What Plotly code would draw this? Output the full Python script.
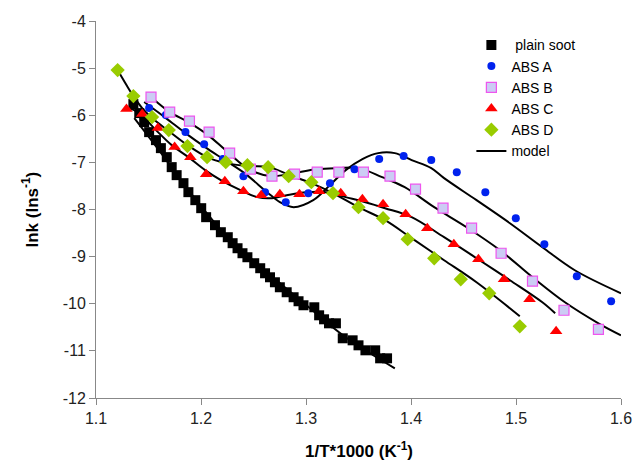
import plotly.graph_objects as go

# ---- data ----
soot_x = [1.1356, 1.1412, 1.1459, 1.1506, 1.1571, 1.1618, 1.1674, 1.1721, 1.1768, 1.1833,
          1.1880, 1.1946, 1.2002, 1.2049, 1.2133, 1.2189, 1.2255, 1.2301, 1.2348, 1.2395,
          1.2442, 1.2507, 1.2564, 1.2610, 1.2657, 1.2704, 1.2751, 1.2816, 1.2882, 1.2929,
          1.2976, 1.3079, 1.3125, 1.3172, 1.3219, 1.3285, 1.3350, 1.3444, 1.3500, 1.3566,
          1.3659, 1.3706, 1.3772]
soot_y = [-5.763, -5.954, -6.145, -6.358, -6.528, -6.698, -6.889, -7.101, -7.271, -7.441,
          -7.632, -7.802, -7.972, -8.163, -8.333, -8.482, -8.588, -8.715, -8.822, -8.928,
          -9.013, -9.140, -9.246, -9.353, -9.438, -9.544, -9.650, -9.756, -9.862, -9.947,
          -10.032, -10.075, -10.245, -10.330, -10.415, -10.415, -10.733, -10.776, -10.882, -10.988,
          -10.988, -11.158, -11.158]

absA_x = [1.1506, 1.1665, 1.1852, 1.2030, 1.2208, 1.2404, 1.2610, 1.2807, 1.3022, 1.3228,
          1.3462, 1.3697, 1.3930, 1.4193, 1.4436, 1.4708, 1.4998, 1.5270, 1.5579, 1.5906]
absA_y = [-5.848, -5.997, -6.358, -6.613, -6.931, -7.292, -7.632, -7.845, -7.653, -7.441,
          -7.144, -6.931, -6.867, -6.952, -7.207, -7.632, -8.184, -8.737, -9.416, -9.947]

absB_x = [1.1524, 1.1702, 1.1890, 1.2077, 1.2273, 1.2470, 1.2676, 1.2891, 1.3107, 1.3313,
          1.3547, 1.3800, 1.4043, 1.4305, 1.4577, 1.4858, 1.5157, 1.5457, 1.5785]
absB_y = [-5.614, -5.933, -6.124, -6.358, -6.804, -7.144, -7.292, -7.250, -7.207, -7.207,
          -7.207, -7.292, -7.568, -7.972, -8.397, -8.928, -9.522, -10.138, -10.542]

absC_x = [1.1290, 1.1440, 1.1590, 1.1749, 1.1899, 1.2049, 1.2227, 1.2404, 1.2573, 1.2751,
          1.2938, 1.3125, 1.3331, 1.3537, 1.3734, 1.3949, 1.4155, 1.4408, 1.4642, 1.4886,
          1.5129, 1.5382]
absC_y = [-5.869, -5.975, -6.273, -6.676, -6.889, -7.250, -7.398, -7.611, -7.696, -7.675,
          -7.675, -7.611, -7.653, -7.781, -7.887, -8.099, -8.397, -8.737, -9.055, -9.480,
          -9.905, -10.585]

absD_x = [1.1206, 1.1356, 1.1534, 1.1693, 1.1871, 1.2058, 1.2236, 1.2442, 1.2639, 1.2835,
          1.3051, 1.3257, 1.3500, 1.3734, 1.3968, 1.4221, 1.4474, 1.4745, 1.5036]
absD_y = [-5.041, -5.593, -6.039, -6.315, -6.655, -6.889, -6.995, -7.059, -7.101, -7.292,
          -7.420, -7.653, -7.951, -8.184, -8.630, -9.034, -9.480, -9.777, -10.478]

# model curves
mod_soot_x = [1.1365, 1.1599, 1.1880, 1.2255, 1.2629, 1.3004, 1.3378, 1.3846]
mod_soot_y = [-6.060, -6.740, -7.590, -8.588, -9.331, -10.032, -10.712, -11.370]

mod_A_x = [1.1459, 1.1665, 1.1852, 1.2039, 1.2227, 1.2414, 1.2629, 1.2751, 1.2882, 1.3069,
           1.3228, 1.3378, 1.3537, 1.3687, 1.3846, 1.4006, 1.4193, 1.4315, 1.4624, 1.4942,
           1.5251, 1.5560, 1.6000]
mod_A_y = [-5.720, -6.060, -6.379, -6.676, -6.952, -7.229, -7.632, -7.845, -7.951, -7.802,
           -7.483, -7.165, -6.931, -6.804, -6.804, -6.952, -7.122, -7.335, -7.802, -8.291,
           -8.800, -9.289, -9.777]

mod_B_x = [1.1534, 1.1702, 1.1880, 1.2067, 1.2255, 1.2470, 1.2676, 1.2882, 1.3097, 1.3313,
           1.3500, 1.3725, 1.3940, 1.4221, 1.4530, 1.4848, 1.5157, 1.5466, 1.5785, 1.6000]
mod_B_y = [-5.636, -5.933, -6.145, -6.421, -6.783, -7.165, -7.292, -7.229, -7.144, -7.122,
           -7.122, -7.314, -7.526, -7.951, -8.376, -8.864, -9.437, -9.969, -10.415, -10.670]

mod_C_x = [1.1318, 1.1412, 1.1571, 1.1721, 1.1880, 1.2039, 1.2189, 1.2376, 1.2536, 1.2676,
           1.2816, 1.3004, 1.3191, 1.3378, 1.3566, 1.3753, 1.4006, 1.4315, 1.4624, 1.4942,
           1.5251, 1.5373]
mod_C_y = [-5.848, -5.954, -6.315, -6.634, -6.889, -7.165, -7.377, -7.590, -7.738, -7.760,
           -7.696, -7.632, -7.632, -7.738, -7.845, -7.972, -8.163, -8.588, -9.034, -9.501,
           -9.969, -10.202]

mod_D_x = [1.1206, 1.1290, 1.1356, 1.1440, 1.1534, 1.1693, 1.1871, 1.2058, 1.2236, 1.2442,
           1.2648, 1.2845, 1.3051, 1.3257, 1.3500, 1.3753, 1.4006, 1.4315, 1.4624, 1.5036]
mod_D_y = [-5.041, -5.359, -5.593, -5.848, -6.060, -6.336, -6.634, -6.889, -7.016, -7.080,
           -7.101, -7.271, -7.441, -7.653, -7.951, -8.227, -8.609, -9.076, -9.544, -10.266]

x_ticks = [1.1, 1.2, 1.3, 1.4, 1.5, 1.6]
x_tick_labels = ["1.1", "1.2", "1.3", "1.4", "1.5", "1.6"]
y_ticks = [-12, -11, -10, -9, -8, -7, -6, -5, -4]
y_tick_labels = ["-12", "-11", "-10", "-9", "-8", "-7", "-6", "-5", "-4"]

FONT = "Liberation Sans, Arial, sans-serif"

fig = go.Figure()

models = [(mod_soot_x, mod_soot_y), (mod_A_x, mod_A_y), (mod_B_x, mod_B_y),
          (mod_C_x, mod_C_y), (mod_D_x, mod_D_y)]
for i, (mx, my) in enumerate(models):
    fig.add_trace(go.Scatter(
        x=mx, y=my, mode="lines", name="model",
        line=dict(color="black", width=2, shape="spline", smoothing=1.0),
        showlegend=(i == 0), legendrank=6, hoverinfo="skip"))

fig.add_trace(go.Scatter(x=soot_x, y=soot_y, mode="markers", name=" plain soot", legendrank=1,
                         marker=dict(symbol="square", size=10, color="black")))
fig.add_trace(go.Scatter(x=absA_x, y=absA_y, mode="markers", name="ABS A", legendrank=2,
                         marker=dict(symbol="circle", size=8, color="#0022ee")))
fig.add_trace(go.Scatter(x=absB_x, y=absB_y, mode="markers", name="ABS B", legendrank=3,
                         marker=dict(symbol="square", size=10, color="#ccccf4",
                                     line=dict(color="#ee55ee", width=1.2))))
fig.add_trace(go.Scatter(x=absC_x, y=absC_y, mode="markers", name="ABS C", legendrank=4,
                         marker=dict(symbol="triangle-up", size=11, color="#ff0000")))
fig.add_trace(go.Scatter(x=absD_x, y=absD_y, mode="markers", name="ABS D", legendrank=5,
                         marker=dict(symbol="diamond", size=11, color="#99cc00")))

axis_common = dict(showgrid=False, zeroline=False, showline=True, linecolor="#888888",
                   linewidth=1, ticks="outside", ticklen=6, tickcolor="#888888",
                   tickfont=dict(family=FONT, size=16, color="#222222"))

fig.update_xaxes(range=[1.1, 1.6], tickvals=x_ticks, ticktext=x_tick_labels, **axis_common)
fig.update_yaxes(range=[-12, -4], tickvals=y_ticks, ticktext=y_tick_labels, **axis_common)

fig.update_layout(
    width=644, height=469,
    margin=dict(l=96, r=14, t=21, b=71),
    plot_bgcolor="white", paper_bgcolor="white",
    font=dict(family=FONT, size=14, color="black"),
    legend=dict(x=0.715, y=0.978, xanchor="left", yanchor="top",
                bgcolor="rgba(0,0,0,0)", font=dict(family=FONT, size=14, color="black"),
                tracegroupgap=0, itemwidth=30),
    annotations=[
        dict(text="<b>1/T*1000 (K<sup>-1</sup>)</b>", xref="paper", yref="paper",
             x=0.5, y=0, yshift=-52, xanchor="center", yanchor="middle", showarrow=False,
             font=dict(family=FONT, size=17, color="black")),
        dict(text="<b>lnk (lns<sup>-1</sup>)</b>", xref="paper", yref="paper",
             x=0, y=0.5, xshift=-66, xanchor="center", yanchor="middle", showarrow=False,
             textangle=-90, font=dict(family=FONT, size=17, color="black")),
    ],
)

# remove the browser's default 8px page margin so the figure fills the window exactly
fig.write_html("out.html", config={"displayModeBar": False},
               post_script="document.body.style.margin='0';document.body.style.overflow='hidden';")
